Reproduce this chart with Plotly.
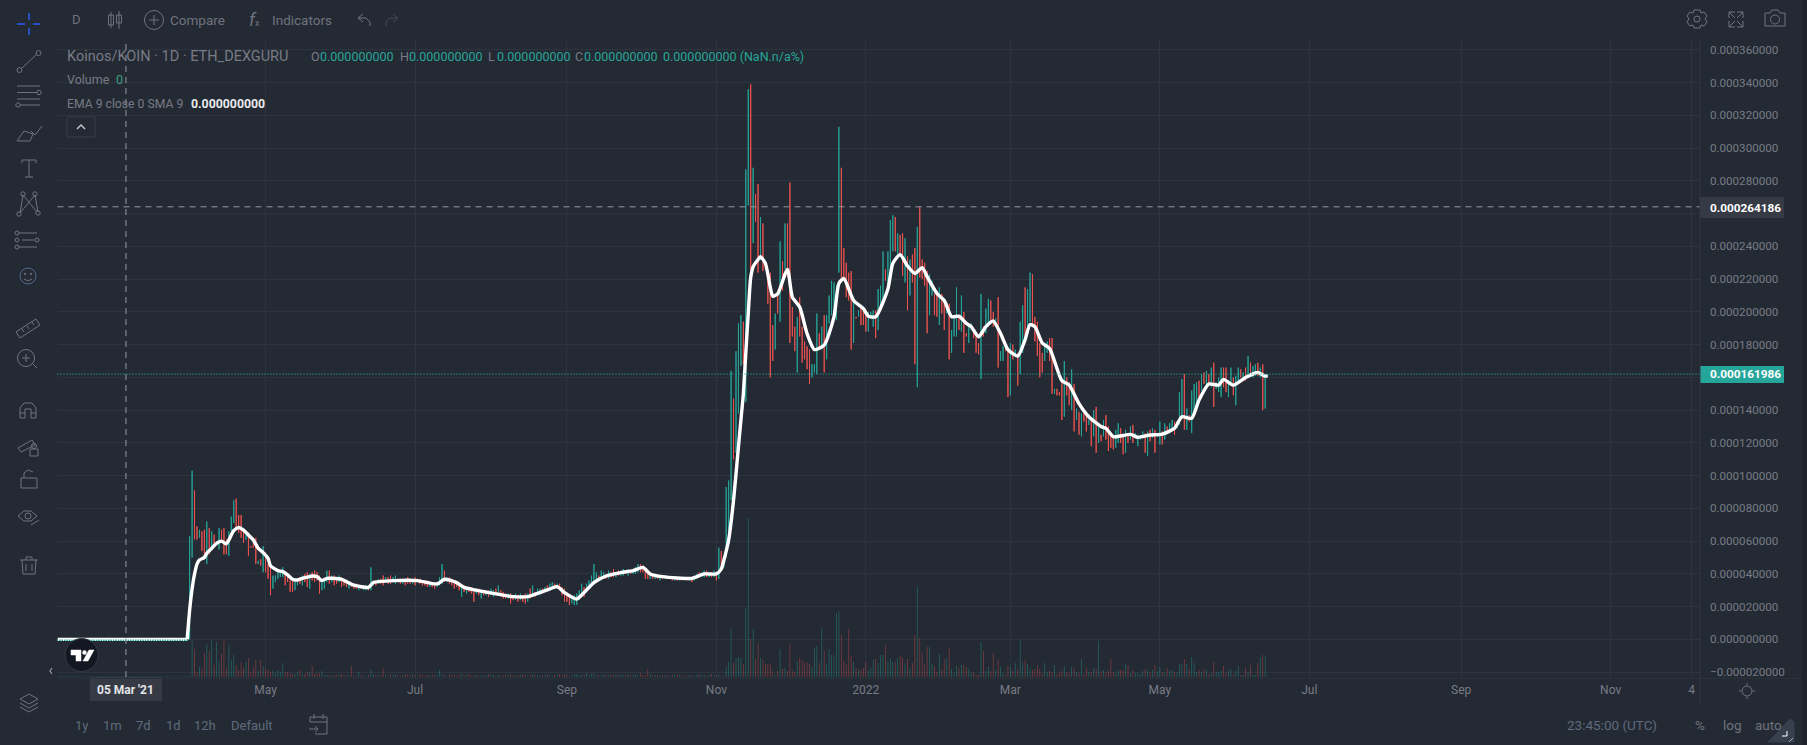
from datetime import datetime, timedelta
import plotly.graph_objects as go

W, H = 1807, 745
BG = "#242a33"
GRID = "#2e343f"
DIM = "#787b86"
ICON = "#6f737e"
UP = "#26a69a"
DOWN = "#ef5350"
FONT = "Roboto"

# prices are in millionths of the quote unit
first_day = datetime(2021, 3, 31)
flat_days = 54
highs = [
    63,103,91,69,67,66,67,72,68,66, 64,60,68,67,68,61,66,75,85,86,
    76,76,68,64,64,57,62,62,48,49, 57,53,46,44,39,39,41,42,44,41,
    39,36,36,37,36,38,39,40,41,40, 41,42,41,39,36,37,42,42,39,39,
    38,39,38,37,36,35,34,34,34,33, 33,33,33,33,44,36,36,37,37,39,
    38,38,39,38,39,37,37,37,37,38, 37,37,38,37,37,36,36,36,35,35,
    34,35,38,46,42,38,38,37,36,35, 34,33,33,32,32,32,31,31,31,30,
    30,30,30,31,30,31,33,30,29,28, 28,28,27,28,27,28,27,28,28,31,
    33,29,31,31,31,32,33,34,35,34, 34,34,32,31,28,26,25,27,28,30,
    34,32,34,36,39,46,41,39,42,41, 40,42,41,43,41,42,42,43,42,43,
    42,43,44,46,46,45,43,42,40,40, 39,39,39,39,38,38,38,38,38,38,
    38,38,38,38,38,38,39,40,41,41, 42,42,41,41,42,41,56,54,48,93,
    97,164,147,176,193,198,194,287,336,339, 288,272,278,258,254,231,225,224,192,199,
    211,243,231,254,254,279,203,191,197,209, 191,182,179,177,168,168,199,187,191,198,
    198,210,219,218,216,313,288,239,230,224, 225,209,197,201,204,203,201,200,200,201,
    201,214,216,237,226,237,256,259,258,248, 247,248,245,234,232,235,239,252,264,232,
    230,225,223,219,211,213,215,211,207,206, 205,189,196,215,198,210,200,187,193,193,
    190,186,181,211,191,202,208,207,200,196, 209,176,179,180,176,181,180,177,175,194,
    204,215,214,224,223,197,194,181,175,180, 182,184,184,153,153,151,159,170,160,157,
    165,156,141,139,138,138,137,134,135,140, 142,131,125,134,137,130,124,124,128,132,
    129,124,128,126,130,131,126,125,124,127, 126,127,128,129,128,126,133,127,132,130,
    132,134,133,133,151,159,162,141,137,152, 156,157,158,162,163,164,162,166,169,157,
    160,166,166,166,158,166,160,161,166,165, 163,166,173,169,167,168,169,166,168,161,
    162]
lows = [
    0,50,61,61,62,54,49,46,52,55, 56,58,55,59,52,52,51,66,71,68,
    65,62,59,61,51,56,56,46,46,45, 41,41,37,27,31,35,37,38,38,33,
    35,29,29,30,33,34,33,35,32,31, 36,35,36,28,30,31,35,34,35,33,
    34,35,32,33,32,31,32,31,31,30, 31,30,30,30,30,33,33,34,34,33,
    35,34,34,35,34,35,34,34,33,34, 34,34,33,35,34,33,33,32,32,32,
    31,32,33,34,35,35,34,33,31,32, 30,26,29,28,29,28,23,28,27,25,
    27,27,26,27,26,27,27,26,25,25, 25,22,24,24,23,24,23,22,23,25,
    26,26,27,27,28,29,30,30,31,31, 31,30,27,23,23,21,22,21,21,24,
    27,26,29,31,34,35,36,36,36,37, 37,37,38,38,38,39,39,39,40,39,
    40,40,40,41,41,41,37,37,37,37, 37,37,36,37,37,37,37,36,36,36,
    36,36,36,36,36,35,36,37,38,38, 38,38,38,38,38,36,37,44,44,50,
    58,85,110,114,138,167,168,145,265,225, 242,255,224,232,225,226,205,160,170,177,
    199,194,213,226,221,181,185,176,163,185, 169,171,165,156,160,163,162,177,177,163,
    171,193,198,197,195,224,221,219,209,207, 177,181,196,197,192,192,188,188,196,191,
    184,189,202,207,219,214,223,237,237,235, 234,222,218,201,210,218,168,154,221,220,
    216,187,198,210,198,197,192,199,189,199, 171,175,185,185,189,188,175,185,181,189,
    184,175,174,159,185,187,191,193,191,193, 166,170,170,176,148,149,171,173,155,162,
    175,185,187,194,193,182,173,160,163,170, 175,170,150,150,149,149,134,136,149,143,
    140,127,134,125,124,133,127,131,118,124, 114,120,121,124,122,115,117,116,117,120,
    120,113,114,120,122,120,123,118,122,123, 114,112,121,123,114,124,119,119,122,127,
    126,127,125,129,131,136,128,128,133,126, 137,142,148,152,156,155,156,154,142,153,
    151,148,154,151,148,156,149,143,158,160, 159,158,160,163,160,161,161,160,140,141,
    161]
directions = (
    "GGRRGRRGRG" "RGGRRRGGGR" "RRRGRRRRGR" "GRRRGGGGGR" "RRRGGRGRRG" "RRRRGGGRGR"
    "RGRRRGRRRG" "RGGRGGRGRR" "GRRGGRRGRR" "RGRGRRRRGR" "RGGGRGRRRR" "RGRGRRRGRG"
    "RGRGGRGRRR" "GRRGRGRRGR" "GRGGRGRGGR" "GRRRRRGGGG" "GRGGGGGRGG" "RGRRGRGGRG"
    "RGGGRRRRGR" "GRGRGRGRGR" "GRGRGRGGRG" "GRGRGRGRGG" "GGRGGGRGGR" "GRRGRRRRRG"
    "RGRGRRRRGR" "RRRRGGGRGR" "GGGGGGRRRR" "RGRGRRRGGG" "RGGGRGGGRG" "RRGRGRRGRR"
    "RRGGRRGRRG" "RGGGRGRRGG" "RRRGRGGRRG" "RGGRRGRGRG" "GRGGRRRRRG" "GRRGRRRGRR"
    "GRGRGRRGRG" "RGRGRRRRGG" "RRGRGRGGGG" "RGRGRGGRGR" "GGRGGGRGRG" "GGRGRGRGRG"
    "GGRRGGRGGR" "GRGRGGRGRG" "G")
volumes = [
    1,37,28,5,10,8,24,33,26,37, 12,35,16,23,37,10,32,17,22,12,
    7,15,9,15,19,5,10,17,6,17, 11,8,7,5,7,4,7,5,14,5,
    5,4,3,3,5,7,3,3,5,5, 11,3,4,4,6,2,2,2,1,2,
    2,3,3,2,1,2,11,1,1,5, 2,1,1,2,7,3,2,2,2,9,
    2,1,3,2,3,2,1,2,3,2, 2,3,2,1,3,2,1,2,2,3,
    2,2,7,3,2,1,3,2,2,1, 2,3,2,2,3,1,2,2,1,2,
    1,2,3,2,2,1,2,1,2,2, 2,3,2,1,2,2,3,2,1,2,
    3,2,2,1,2,2,3,2,1,2, 2,3,2,3,2,1,2,3,3,2,
    2,3,4,2,3,4,2,2,2,3, 2,2,3,2,3,2,3,2,2,3,
    2,2,3,2,4,2,2,8,3,2, 2,2,1,2,2,2,1,2,2,3,
    2,2,1,1,2,2,1,2,3,2, 2,1,2,3,2,2,2,1,1,10,
    15,48,14,19,20,19,13,69,159,38, 48,18,34,19,17,13,13,13,6,2,
    6,28,8,9,6,33,6,5,16,19, 17,14,15,13,10,29,31,14,49,26,
    13,28,22,22,64,66,42,16,13,48, 21,15,9,7,8,9,15,6,9,17,
    18,14,22,22,32,15,18,15,15,19, 21,19,14,18,9,14,42,90,39,24,
    13,30,30,13,11,5,23,7,18,19, 29,8,4,11,9,12,12,10,8,4,
    5,2,2,35,26,6,10,6,24,7, 17,10,4,2,11,10,6,14,8,37,
    14,17,13,8,7,8,12,8,4,14, 5,6,5,12,3,4,6,11,5,4,
    10,9,5,4,18,3,9,5,5,9, 8,36,6,7,5,6,18,5,4,7,
    7,7,13,12,4,7,4,4,3,6, 8,7,5,7,12,6,10,5,4,9,
    6,7,5,5,13,13,18,13,7,20, 14,5,7,5,8,7,3,4,15,5,
    5,6,11,4,7,8,3,6,11,2, 2,9,5,12,2,2,14,20,22,21,
    1]
ema_days = [
    -1,0,1,2,3,4,6,7,9,11,13,15,16,18,20,22,24,26,28,30,32,33,36,38,40,42,44,46,48,
    50,52,54,56,58,62,67,73,75,84,93,101,104,109,112,120,124,132,138,142,146,150,153,158,161,165,170,176,181,185,
    188,193,205,210,215,217,218,220,222,224,225,226,227,228,229,230,232,233,235,237,238,240,244,246,249,252,255,259,263,265,
    267,271,275,277,280,285,287,290,293,296,299,301,305,308,311,314,317,319,322,325,328,331,334,338,341,343,345,348,351,356,
    359,363,367,372,374,377,384,387,392,397,402,405,409,412,416,420,422,426,431,436,439,440]
ema_values = [
    0,18,31,40,46,48.5,50,52.6,55.6,58.7,60,58.3,60.7,66.4,68.3,66.8,63.8,60.7,55.6,53,49.5,45,42,41.4,39.4,36.7,36.3,37.3,38,
    38.7,38.3,35.9,37.3,37.3,36.7,33.2,31.8,34.7,35.9,35.9,33.9,36.7,34.7,31.8,29.2,28.1,26.1,26.1,28.1,30.2,32.2,28.6,24.7,28.6,34.7,38.7,40.8,42,44,
    40,38.3,37.3,40,40,43,48,60.7,85,117.7,134,150,175,199,221,227.6,232,233.7,229.6,215,209.6,211,226,209,203,186.8,177,179.7,197,217.4,
    220.4,207,202,197.4,197,214,229.6,235,228,223.5,227,221.5,211.3,207,197,197.4,193,191,184.8,191,194.4,186.8,177,173,183,192.3,191,181,177.7,158,
    155.3,144,136,130,128.9,123.8,125.2,123.4,124.8,125.4,128.9,136,135,146.2,156,155.3,158.8,155.3,160,163,160.8,161]
price_ticks = [-20,0,20,40,60,80,100,120,140,180,200,220,240,280,300,320,340,360]
price_labels = ["−0.000020000","0.000000000","0.000020000","0.000040000","0.000060000","0.000080000",
                "0.000100000","0.000120000","0.000140000","0.000180000","0.000200000",
                "0.000220000","0.000240000","0.000280000","0.000300000","0.000320000","0.000340000","0.000360000"]
grid_prices = [160, 260]
time_ticks = ["2021-05-01","2021-07-01","2021-09-01","2021-11-01","2022-01-01","2022-03-01",
              "2022-05-01","2022-07-01","2022-09-01","2022-11-01","2022-12-04"]
time_labels = ["May","Jul","Sep","Nov","2022","Mar","May","Jul","Sep","Nov","4"]
last_price = 161.986
cross_price = 264.186
cross_date = "2021-03-05"

dates = [first_day + timedelta(days=i) for i in range(len(highs))]
flat_dates = [first_day + timedelta(days=i) for i in range(-flat_days, 0)]
opens = [l if d == "G" else h for h, l, d in zip(highs, lows, directions)]
closes = [h if d == "G" else l for h, l, d in zip(highs, lows, directions)]
ema_dates = [first_day + timedelta(days=i) for i in ema_days]
vol_colors = ["rgba(38,166,154,0.45)" if d == "G" else "rgba(239,83,80,0.42)" for d in directions]

PX, PY0, PY1 = (57.5, 1700), 39, 678
def fx(x): return x / W
def fy(y): return 1 - y / H

shapes, notes = [], []
def poly(pts, color=ICON, width=1, close=False, fill=None, layer="above"):
    d = "M" + " L".join(f"{fx(x):.5f} {fy(y):.5f}" for x, y in pts) + (" Z" if close else "")
    shapes.append(dict(type="path", path=d, xref="paper", yref="paper", layer=layer,
                       line=dict(color=color, width=width), fillcolor=fill or "rgba(0,0,0,0)"))
def circ(cx, cy, r, color=ICON, width=1, fill=None):
    shapes.append(dict(type="circle", xref="paper", yref="paper", x0=fx(cx-r), x1=fx(cx+r), y0=fy(cy+r), y1=fy(cy-r),
                       line=dict(color=color, width=width), fillcolor=fill or "rgba(0,0,0,0)"))
def box(x0, y0, x1, y1, color=None, fill=None, width=1):
    shapes.append(dict(type="rect", xref="paper", yref="paper", x0=fx(x0), x1=fx(x1), y0=fy(y1), y1=fy(y0),
                       line=dict(color=color or "rgba(0,0,0,0)", width=width if color else 0), fillcolor=fill or "rgba(0,0,0,0)"))
def text(x, y, s, color=DIM, size=13, anchor="left", bold=False, family=FONT):
    notes.append(dict(xref="paper", yref="paper", x=fx(x), y=fy(y), text=f"<b>{s}</b>" if bold else s, showarrow=False,
                      xanchor=anchor, yanchor="middle", font=dict(color=color, size=size, family=family),
                      borderpad=0, borderwidth=0))

# legend rows
text(67, 57, "Koinos/KOIN · 1D · ETH_DEXGURU", size=14.5)
for x, lab, val in [(311, "O", "0.000000000"), (400, "H", "0.000000000"), (488, "L", "0.000000000"), (575, "C", "0.000000000")]:
    text(x, 57, lab, size=12.5)
    text(x + 9, 57, val, UP, 12.5)
text(663, 57, "0.000000000 (NaN.n/a%)", UP, 12.5)
text(67, 80, "Volume", size=12.5)
text(116, 80, "0", "#3f9f80", 12.5)
text(67, 104, "EMA 9 close 0 SMA 9", size=12.2)
text(191, 104, "0.000000000", "#e8e9ec", 12.3, bold=True)
shapes.append(dict(type="rect", xref="paper", yref="paper", x0=fx(67), x1=fx(95), y0=fy(137), y1=fy(117),
                   line=dict(color="#363c47", width=1)))
poly([(77, 129), (81, 125), (85, 129)], "#c8cad0", 1.4)

# top toolbar
text(76, 20, "D", ICON, 13, "center")
poly([(111, 12), (111, 28)]); box(108.5, 15, 113.5, 25, ICON)
poly([(119, 11), (119, 29)]); box(116.5, 15, 121.5, 23, ICON)
circ(154, 20, 9.5); poly([(154, 15), (154, 25)]); poly([(149, 20), (159, 20)])
text(170, 20, "Compare", ICON, 13.5)
text(255, 20, "<i>f</i><span style='font-size:9px'>x</span>", ICON, 18, "center")
text(272, 20, "Indicators", ICON, 13.5)
poly([(363, 14), (358, 18), (363, 22)]); poly([(358, 18), (366, 18), (370, 22), (370, 26)])
poly([(393, 14), (398, 18), (393, 22)], "#444a55"); poly([(398, 18), (390, 18), (386, 22), (386, 26)], "#444a55")
circ(1697, 19, 3)
poly([(1694, 10), (1700, 10), (1701, 13), (1704, 12), (1707, 16), (1705, 19), (1707, 22), (1704, 26), (1701, 25),
      (1700, 28), (1694, 28), (1693, 25), (1690, 26), (1687, 22), (1689, 19), (1687, 16), (1690, 12), (1693, 13)], close=True)
for a, b in [((1729, 12), (1735, 12)), ((1729, 12), (1729, 18)), ((1729, 12), (1735, 18)),
             ((1743, 12), (1737, 12)), ((1743, 12), (1743, 18)), ((1743, 12), (1737, 18)),
             ((1729, 27), (1735, 27)), ((1729, 27), (1729, 21)), ((1729, 27), (1735, 21)),
             ((1743, 27), (1737, 27)), ((1743, 27), (1743, 21)), ((1743, 27), (1737, 21))]:
    poly([a, b], ICON)
poly([(1765, 13), (1770, 13), (1772, 10), (1778, 10), (1780, 13), (1785, 13), (1785, 26), (1765, 26)], close=True)
circ(1775, 19.5, 4.5)

# left toolbar
poly([(29, 13), (29, 20)], "#2962ff", 1.4); poly([(29, 28), (29, 35)], "#2962ff", 1.4)
poly([(17, 24), (25, 24)], "#2962ff", 1.4); poly([(33, 24), (40, 24)], "#2962ff", 1.4)
poly([(21, 69), (37, 54)]); circ(19.5, 70, 2.5); circ(38.5, 53, 2.5)
for y in (86, 99): poly([(17, y), (40, y)])
poly([(17, 92.5), (37, 92.5)]); circ(39, 92.5, 2.2); poly([(20, 105), (40, 105)]); circ(18, 105, 2.2)
poly([(17, 141), (24, 131), (33, 134), (30, 141)], close=True); poly([(31, 131), (35, 135), (42, 126)])
poly([(22, 160), (36, 160)]); poly([(29, 160), (29, 177)]); poly([(25, 177), (33, 177)]); poly([(22, 160), (22, 163)]); poly([(36, 160), (36, 163)])
for (a, b) in [((20, 213), (23, 195)), ((23, 195), (37, 212)), ((20, 213), (35, 195)), ((35, 195), (38, 212))]:
    poly([a, b])
for c in [(19, 214), (23, 194), (35, 194), (38, 213)]: circ(c[0], c[1], 2.2)
for y in (233, 247): poly([(19, y), (37, y)])
poly([(22, 240), (34, 240)]); circ(17, 233, 2); circ(17, 240, 2); circ(17, 247, 2); circ(37, 240, 2)
circ(28, 276, 8, "#4f6a90"); circ(25, 274, .8); circ(31, 274, .8); poly([(24, 279), (28, 281), (32, 279)])
poly([(16, 332), (36, 319), (40, 325), (20, 338)], close=True)
for x, y in [(22, 329), (27, 326), (32, 322)]: poly([(x, y), (x + 2, y + 3)])
circ(26, 358, 8.5); poly([(22, 358), (30, 358)]); poly([(26, 354), (26, 362)]); poly([(33, 364), (37, 368)])
poly([(20, 418), (20, 408), (24, 403), (32, 403), (36, 408), (36, 418), (31, 418), (31, 409), (25, 409), (25, 418)], close=True)
poly([(20, 413), (25, 413)]); poly([(31, 413), (36, 413)])
poly([(18, 448), (32, 440), (35, 445), (21, 452)], close=True); box(30, 449, 38, 456, ICON); circ(34, 446, 2.5)
box(21, 478, 37, 488, ICON); poly([(24, 478), (24, 473), (28, 470), (33, 472)])
poly([(18, 516), (24, 511), (31, 511), (37, 516), (31, 521), (24, 521)], close=True); circ(28, 516, 3)
poly([(31, 525), (39, 520)])
poly([(20, 560), (38, 560)]); poly([(22, 560), (23, 574), (35, 574), (36, 560)]); poly([(26, 560), (26, 557), (32, 557), (32, 560)])
poly([(26, 564), (26, 571)]); poly([(32, 564), (32, 571)])
poly([(52, 668), (50, 671), (52, 674)], "#9598a1", 1.2)
poly([(20, 699), (29, 694), (38, 699), (29, 704)], close=True)
poly([(20, 703), (29, 708), (38, 703)]); poly([(20, 707), (29, 712), (38, 707)])

# grid lines whose axis labels are hidden behind the price tags
for p in grid_prices:
    shapes.append(dict(type="line", xref="paper", yref="y2", x0=fx(PX[0]), x1=fx(PX[1]), y0=p, y1=p,
                       line=dict(color=GRID, width=1), layer="below"))
# crosshair and price lines
shapes.append(dict(type="line", xref="x", yref="paper", x0=cross_date, x1=cross_date, y0=fy(677), y1=fy(39),
                   line=dict(color="#9598a1", width=1, dash="6px,5px"), layer="above"))
shapes.append(dict(type="line", xref="paper", yref="y2", x0=fx(PX[0]), x1=fx(PX[1]), y0=cross_price, y1=cross_price,
                   line=dict(color="#9598a1", width=1, dash="6px,5px"), layer="above"))
shapes.append(dict(type="line", xref="paper", yref="y2", x0=fx(PX[0]), x1=fx(PX[1]), y0=last_price, y1=last_price,
                   line=dict(color=UP, width=1.3, dash="1px,2px"), layer="above"))
box(1700, 197, 1784, 218, fill="#363a45")
text(1710, 207.5, "0.000264186", "#ffffff", 11.8, bold=True)
box(1700, 366, 1784, 383, fill=UP)
text(1710, 374.5, "0.000161986", "#ffffff", 11.8, bold=True)
box(90, 677, 162, 701, fill="#363a45")
text(126, 690, "05 Mar '21", "#e4e5e8", 12, "center", bold=True)

# logo
circ(81.7, 655, 16.5, "#363a45", 1, "#131722")
poly([(71, 650), (81, 650), (81, 661), (76, 661), (76, 655), (71, 655)], "#ffffff", 0.5, True, "#ffffff")
circ(84.5, 652.5, 2.2, "#ffffff", 0, "#ffffff")
poly([(89, 650), (94, 650), (88, 661), (83, 661)], "#ffffff", 0.5, True, "#ffffff")

# bottom bars
for x, s in [(75, "1y"), (103, "1m"), (136, "7d"), (166, "1d"), (194, "12h"), (231, "Default")]:
    text(x, 725, s, "#5f6a7d", 13)
poly([(310, 722), (310, 717), (327, 717), (327, 734), (315, 734)]); poly([(310, 722), (327, 722)])
poly([(314, 714), (314, 719)]); poly([(323, 714), (323, 719)]); poly([(309, 729), (318, 729)]); poly([(315, 726), (318, 729), (315, 732)])
text(1567, 725, "23:45:00 (UTC)", "#5f6a7d", 13.5)
text(1695, 725, "%", ICON, 13.5)
text(1723, 725, "log", ICON, 13.5)
text(1755, 725, "auto", ICON, 13.5)
poly([(1768, 742), (1790, 719), (1794, 722), (1794, 742)], "#384050", 1, True, "#384050")
poly([(1782, 736), (1787, 736), (1787, 731)], "#ffffff", 1)
poly([(1789, 742), (1793, 738)], "#aab0ba", 1)
circ(1747, 691, 5, ICON)
for a, b in [((1747, 683), (1747, 685)), ((1747, 697), (1747, 699)), ((1739, 691), (1741, 691)), ((1753, 691), (1755, 691))]:
    poly([a, b])
poly([(1700, 39), (1700, 703)], "#303642", 1)
poly([(57.5, 678.5), (1801, 678.5)], "#2c323c", 1)
box(1802, 0, 1807, 745, fill="#1f242c")

traces = [
    go.Bar(x=flat_dates + dates, y=[0.8] * flat_days + volumes, width=28000000, yaxis="y",
           marker=dict(color=["rgba(38,166,154,0.45)"] * flat_days + vol_colors, line_width=0), hoverinfo="skip"),
    go.Candlestick(x=dates, open=opens, high=highs, low=lows, close=closes, yaxis="y2", whiskerwidth=0,
                   increasing=dict(line=dict(color=UP, width=0.9), fillcolor=UP),
                   decreasing=dict(line=dict(color=DOWN, width=0.9), fillcolor=DOWN), hoverinfo="skip"),
    go.Scatter(x=flat_dates, y=[0] * flat_days, yaxis="y2", mode="lines",
               line=dict(color="#ffffff", width=3.4), hoverinfo="skip"),
    go.Scatter(x=ema_dates, y=ema_values, yaxis="y2", mode="lines",
               line=dict(color="#ffffff", width=3.4, shape="spline", smoothing=0.6), hoverinfo="skip"),
    go.Scatter(x=flat_dates, y=[-0.5] * flat_days, yaxis="y2", mode="markers",
               marker=dict(color=UP, size=1.5, symbol="square", line_width=0), hoverinfo="skip"),
]
left = datetime(2021, 5, 1) + timedelta(days=(PX[0] - 265.6) / 2.45)
right = datetime(2021, 5, 1) + timedelta(days=(PX[1] - 265.6) / 2.45)
y_top = (639.4 - PY0) / 1.6375
y_bot = (639.4 - PY1) / 1.6375

fig = go.Figure(traces)
fig.update_layout(
    width=W, height=H, paper_bgcolor=BG, plot_bgcolor=BG, showlegend=False, margin=dict(l=0, r=0, t=0, b=0),
    barmode="overlay", boxgap=1, hovermode=False, shapes=shapes, annotations=notes,
    font=dict(family=FONT, color=DIM, size=12),
    xaxis=dict(domain=[fx(PX[0]), fx(PX[1])], range=[left, right], tickvals=time_ticks, ticktext=time_labels,
               showgrid=True, gridcolor=GRID, gridwidth=1, zeroline=False, showline=False, ticks="", tickangle=0,
               rangeslider=dict(visible=False), tickfont=dict(color=DIM, size=12, family=FONT), ticklabelstandoff=3,
               anchor="y"),
    yaxis=dict(domain=[fy(PY1), fy(PY0)], range=[-1, 638], visible=False, fixedrange=True),
    yaxis2=dict(domain=[fy(PY1), fy(PY0)], overlaying="y", side="right", range=[y_bot, y_top], tickvals=price_ticks,
                ticktext=price_labels, showgrid=True, gridcolor=GRID, gridwidth=1, zeroline=False, showline=False,
                ticks="", tickfont=dict(color=DIM, size=11.6, family=FONT), ticklabelstandoff=9, anchor="x"),
)
assert len(highs) == len(lows) == len(directions) == len(volumes) and len(ema_days) == len(ema_values)
fig.write_html("out.html", config=dict(displayModeBar=False),
               post_script="document.body.style.margin='0';document.body.style.background='%s';" % BG)
